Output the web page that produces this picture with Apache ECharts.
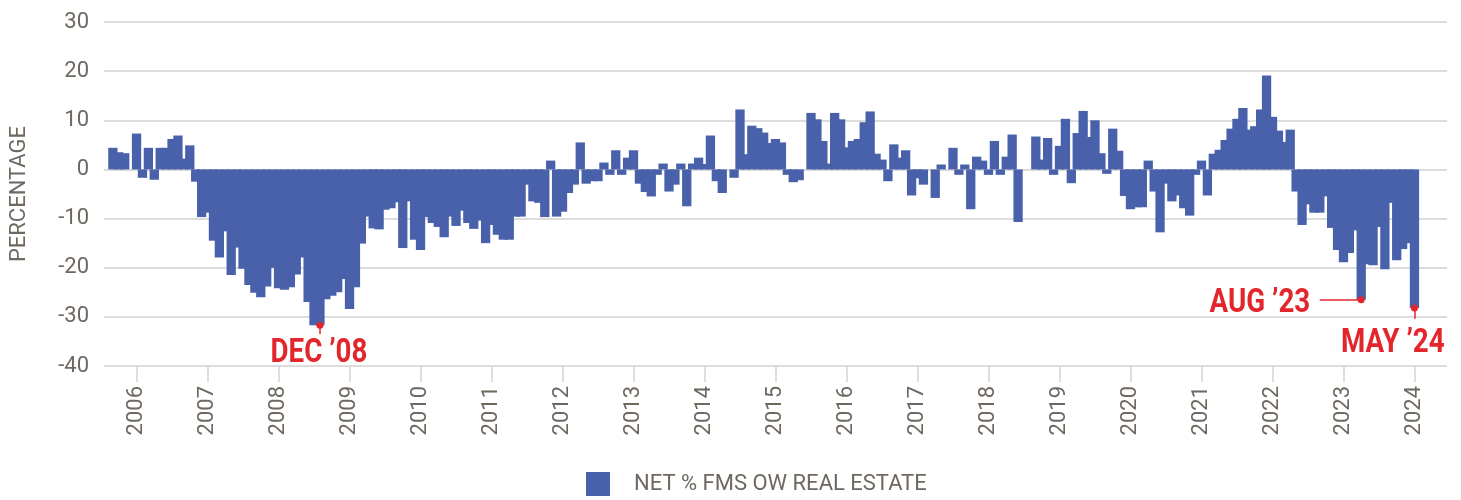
<!DOCTYPE html>
<html>
<head>
<meta charset="utf-8">
<title>Net % FMS OW real estate</title>
<script src="https://cdn.jsdelivr.net/npm/echarts@6/dist/echarts.min.js"></script>
<style>
  html, body { margin: 0; padding: 0; background: #fff; }
  #chart { width: 1461px; height: 500px; }
</style>
</head>
<body>
<div id="chart"></div>
<script>
  // monthly readings, Jan 2006 .. May 2024 (net % of fund managers overweight)
  var v2006 = [4.4, 3.5, 3.3, 0, 7.3, -1.7, 4.4, -2.1, 4.4, 4.4, 6.2, 6.9];
  var v2007 = [2.2, 4.9, -2.5, -9.7, -8.8, -14.5, -17.9, -12.6, -21.5, -15.9, -20.2, -23.5];
  var v2008 = [-25.1, -26.0, -23.8, -20.0, -24.2, -24.5, -24.0, -21.4, -17.9, -27.0, -31.7, -31.7];
  var v2009 = [-26.4, -25.7, -25.0, -22.3, -28.4, -24.0, -15.1, -9.6, -12.0, -12.2, -8.2, -7.9];
  var v2010 = [-6.7, -16.0, -6.5, -14.3, -16.4, -9.7, -10.9, -11.7, -13.8, -9.6, -11.5, -8.4];
  var v2011 = [-10.9, -12.1, -10.4, -15.0, -11.3, -13.3, -14.3, -14.3, -9.6, -9.6, -3.1, -6.5];
  var v2012 = [-6.8, -9.7, 1.8, -9.6, -8.6, -4.8, -3.1, 5.5, -2.9, -2.4, -2.4, 1.4];
  var v2013 = [-1.1, 3.9, -1.1, 2.4, 3.9, -2.9, -4.6, -5.5, -1.1, 1.2, -4.5, -3.1];
  var v2014 = [1.2, -7.5, 1.2, 2.4, 1.1, 6.9, -2.4, -4.8, 0, -1.7, 12.2, 3.1];
  var v2015 = [8.9, 8.4, 7.5, 5.4, 6.2, 5.5, -1.1, -2.6, -2.2, 0, 11.5, 10.2];
  var v2016 = [5.8, 1.2, 11.5, 10.2, 4.5, 5.8, 6.2, 9.6, 11.8, 3.2, 2.0, -2.4];
  var v2017 = [5.1, 2.4, 3.9, -5.3, -1.8, -3.1, 0, -5.8, 1.0, 0, 4.4, -1.1];
  var v2018 = [1.0, -8.1, 2.6, 1.8, -1.1, 5.8, -1.1, 2.6, 7.1, -10.7, 0, 0];
  var v2019 = [6.7, 2.0, 6.4, -1.1, 4.8, 10.3, -2.8, 7.4, 11.9, 6.6, 10.0, 3.3];
  var v2020 = [-0.9, 8.3, 3.8, -5.4, -8.1, -7.7, -7.7, 1.8, -4.5, -12.8, -2.9, -6.5];
  var v2021 = [-5.3, -7.9, -9.4, -1.1, 1.8, -5.3, 3.2, 4.0, 6.0, 8.3, 10.3, 12.5];
  var v2022 = [8.1, 8.8, 12.2, 19.1, 10.7, 7.9, 5.6, 8.1, -4.5, -11.3, -7.1, -8.8];
  var v2023 = [-8.8, -5.5, -11.9, -16.4, -18.9, -17.0, -12.4, -26.5, -19.3, -19.5, -11.7, -20.3];
  var v2024 = [-6.8, -18.5, -16.2, -15.0, -28.2];

  var yearLabels = ['2006', '2007', '2008', '2009', '2010', '2011', '2012', '2013', '2014',
    '2015', '2016', '2017', '2018', '2019', '2020', '2021', '2022', '2023', '2024'];
  var monthNames = ['Jan', 'Feb', 'Mar', 'Apr', 'May', 'Jun', 'Jul', 'Aug', 'Sep', 'Oct', 'Nov', 'Dec'];

  // callouts: [category, label]
  var callouts = [['Dec 2008', 'DEC \u201908'], ['Aug 2023', 'AUG \u201923'], ['May 2024', 'MAY \u201924']];

  var seriesName = 'NET % FMS OW REAL ESTATE';
  var textColor = '#6e6860';
  var red = '#e3262c';

  // axis runs one empty month before the data and five after it
  var perYear = [v2006, v2007, v2008, v2009, v2010, v2011, v2012, v2013, v2014, v2015,
    v2016, v2017, v2018, v2019, v2020, v2021, v2022, v2023, v2024];
  var categories = ['Dec 2005'];
  var values = [null];
  perYear.forEach(function (arr, i) {
    arr.forEach(function (v, m) {
      categories.push(monthNames[m] + ' ' + yearLabels[i]);
      values.push(v);
    });
  });
  for (var m = 5; m < 10; m++) {
    categories.push(monthNames[m] + ' 2024');
    values.push(null);
  }

  function valueAt(cat) {
    return values[categories.indexOf(cat)];
  }

  var dec08 = valueAt(callouts[0][0]);
  var aug23 = valueAt(callouts[1][0]);
  var may24 = valueAt(callouts[2][0]);
  var aug23Idx = categories.indexOf(callouts[1][0]);

  // year ticks sit on May of each year in the original
  var isYearTick = function (idx, val) { return val.indexOf('May') === 0; };

  var chart = echarts.init(document.getElementById('chart'));

  chart.setOption({
    animation: false,
    textStyle: { fontFamily: 'Roboto, sans-serif' },
    grid: { left: 103, right: 14, top: 22, bottom: 134 },
    legend: {
      left: 586,
      top: 472,
      padding: 0,
      icon: 'rect',
      itemWidth: 24,
      itemHeight: 24,
      textStyle: { color: textColor, fontSize: 22, padding: [0, 0, 0, 19] },
      data: [seriesName]
    },
    xAxis: {
      type: 'category',
      data: categories,
      axisLine: { show: false, onZero: false },
      axisTick: {
        show: true,
        alignWithLabel: true,
        length: 16,
        interval: isYearTick,
        lineStyle: { color: '#d3d3d3', width: 1.5 }
      },
      axisLabel: {
        rotate: 90,
        margin: 20,
        color: textColor,
        fontSize: 22,
        interval: isYearTick,
        formatter: function (val) { return yearLabels[yearLabels.indexOf(val.slice(4))]; }
      },
      splitLine: { show: false }
    },
    yAxis: {
      type: 'value',
      min: -40,
      max: 30,
      interval: 10,
      name: 'PERCENTAGE',
      nameLocation: 'middle',
      nameGap: 74,
      nameTextStyle: { color: textColor, fontSize: 22 },
      axisLine: { show: false },
      axisTick: { show: false },
      axisLabel: { color: textColor, fontSize: 22, margin: 15 },
      splitLine: { lineStyle: { color: '#dcdcdc', width: 2 } }
    },
    series: [
      {
        name: seriesName,
        type: 'bar',
        data: values,
        barWidth: 9.3,
        itemStyle: { color: '#4961ab' },
        markPoint: {
          symbol: 'circle',
          symbolSize: 7,
          itemStyle: { color: red },
          label: { show: false },
          data: [
            { coord: [callouts[0][0], dec08] },
            { coord: [callouts[1][0], aug23] },
            { coord: [callouts[2][0], may24] }
          ]
        },
        markLine: {
          silent: true,
          symbol: ['none', 'none'],
          label: { show: false },
          lineStyle: { color: red, width: 1.5, type: 'solid' },
          data: [
            [{ coord: [callouts[0][0], dec08] }, { coord: [callouts[0][0], dec08 - 1.8] }],
            [{ coord: [categories[aug23Idx - 7], aug23] }, { coord: [callouts[1][0], aug23] }],
            [{ coord: [callouts[2][0], may24] }, { coord: [callouts[2][0], may24 - 2.2] }]
          ]
        }
      }
    ]
  });

  // callout texts, squeezed horizontally to mimic the condensed bold face
  var pDec = chart.convertToPixel({ seriesIndex: 0 }, [callouts[0][0], dec08]);
  var pAug = chart.convertToPixel({ seriesIndex: 0 }, [callouts[1][0], aug23]);
  var pMay = chart.convertToPixel({ seriesIndex: 0 }, [callouts[2][0], may24]);

  function callText(text, x, y, align) {
    return {
      type: 'text',
      x: x,
      y: y,
      scaleX: 0.84,
      silent: true,
      style: {
        text: text,
        fill: red,
        font: 'bold 33px Roboto, sans-serif',
        align: align,
        verticalAlign: 'middle'
      }
    };
  }

  chart.setOption({
    graphic: [
      callText(callouts[0][1], pDec[0] - 1, pDec[1] + 28.6, 'center'),
      callText(callouts[1][1], pAug[0] - 51, pAug[1] + 4.4, 'right'),
      callText(callouts[2][1], pMay[0] - 21.7, pMay[1] + 35.6, 'center')
    ]
  });
</script>
</body>
</html>
